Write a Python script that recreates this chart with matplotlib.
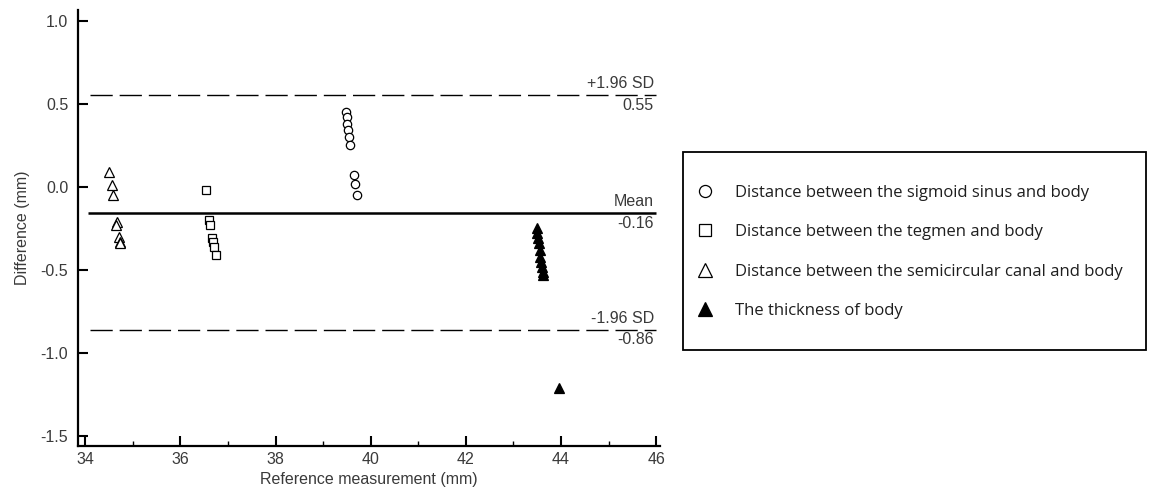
"""Bland-Altman plot: difference vs reference measurement for four distances."""

import matplotlib
matplotlib.use("Agg")
import matplotlib.pyplot as plt
from matplotlib.patches import Rectangle
from matplotlib.ticker import MultipleLocator

# --- data ---
sigmoid_x = [39.48, 39.5, 39.51, 39.53, 39.55, 39.56, 39.65, 39.67, 39.72]
sigmoid_y = [0.45, 0.42, 0.38, 0.34, 0.30, 0.25, 0.07, 0.02, -0.05]

tegmen_x = [36.54, 36.6, 36.63, 36.66, 36.68, 36.7, 36.75]
tegmen_y = [-0.02, -0.20, -0.23, -0.31, -0.33, -0.36, -0.41]

canal_x = [34.5, 34.57, 34.58, 34.66, 34.64, 34.72, 34.74, 34.73]
canal_y = [0.09, 0.01, -0.05, -0.21, -0.23, -0.30, -0.33, -0.34]

thick_x = [43.49, 43.5, 43.51, 43.53, 43.55, 43.56, 43.57, 43.6, 43.62, 43.63, 43.96]
thick_y = [-0.25, -0.28, -0.31, -0.34, -0.38, -0.42, -0.45, -0.48, -0.51, -0.53, -1.21]

series_labels = [
    "Distance between the sigmoid sinus and body",
    "Distance between the tegmen and body",
    "Distance between the semicircular canal and body",
    "The thickness of body",
]

mean_diff = -0.16
upper_loa = 0.55
lower_loa = -0.86

plt.rcParams["font.family"] = ["Liberation Sans", "DejaVu Sans"]
AXIS_FS = 11.5
TEXT_COLOR = "#3a3a3a"

fig = plt.figure(figsize=(11.51, 4.95), dpi=100)
ax = fig.add_axes([0.0678, 0.099, 0.5056, 0.881])

h1, = ax.plot(sigmoid_x, sigmoid_y, "o", ms=6, mfc="white", mec="black", mew=0.9, ls="none")
h2, = ax.plot(tegmen_x, tegmen_y, "s", ms=6, mfc="white", mec="black", mew=0.9, ls="none")
h3, = ax.plot(canal_x, canal_y, "^", ms=6.5, mfc="white", mec="black", mew=0.9, ls="none")
h4, = ax.plot(thick_x, thick_y, "^", ms=7, mfc="black", mec="black", mew=0.9, ls="none")

ax.hlines(mean_diff, 34.05, 46, colors="black", lw=1.8)
ax.hlines([upper_loa, lower_loa], 34.1, 46, colors="black", lw=1.0,
          linestyles=(0, (16, 5)))

# line annotations
lbl_kw = dict(ha="right", fontsize=AXIS_FS, color=TEXT_COLOR, textcoords="offset points")
ax.annotate("+1.96 SD", (45.95, upper_loa), xytext=(0, 3), va="bottom", **lbl_kw)
ax.annotate(f"{upper_loa:.2f}", (45.95, upper_loa), xytext=(0, -2), va="top", **lbl_kw)
ax.annotate("Mean", (45.95, mean_diff), xytext=(0, 3), va="bottom", **lbl_kw)
ax.annotate(f"{mean_diff:.2f}", (45.95, mean_diff), xytext=(0, -2), va="top", **lbl_kw)
ax.annotate("-1.96 SD", (45.95, lower_loa), xytext=(0, 3), va="bottom", **lbl_kw)
ax.annotate(f"{lower_loa:.2f}", (45.95, lower_loa), xytext=(0, -2), va="top", **lbl_kw)

ax.set_xlim(33.85, 46.08)
ax.set_ylim(-1.56, 1.065)
ax.xaxis.set_major_locator(MultipleLocator(2))
ax.xaxis.set_minor_locator(MultipleLocator(1))
ax.yaxis.set_major_locator(MultipleLocator(0.5))
ax.yaxis.set_major_formatter(plt.FormatStrFormatter("%.1f"))

for side in ("top", "right"):
    ax.spines[side].set_visible(False)
for side in ("left", "bottom"):
    ax.spines[side].set_linewidth(1.6)

ax.tick_params(which="major", direction="in", length=7, width=1.5,
               labelsize=AXIS_FS, labelcolor=TEXT_COLOR)
ax.tick_params(axis="y", which="major", pad=7)
ax.tick_params(axis="x", which="major", pad=4)
ax.tick_params(which="minor", direction="in", length=3.5, width=1.0)
ax.tick_params(axis="y", which="minor", left=False)

ax.set_xlabel("Reference measurement (mm)", fontsize=AXIS_FS, color=TEXT_COLOR, labelpad=4)
ax.set_ylabel("Difference (mm)", fontsize=AXIS_FS, color=TEXT_COLOR, labelpad=8)

# legend box on the right
box_x0, box_y0, box_x1, box_y1 = 683, 145, 1146, 343  # pixels from bottom
fig.patches.append(Rectangle((box_x0 / 1151, box_y0 / 495),
                             (box_x1 - box_x0) / 1151, (box_y1 - box_y0) / 495,
                             transform=fig.transFigure, fill=False,
                             edgecolor="black", lw=1.3))

fig.legend([h1, h2, h3, h4], series_labels, loc="upper left",
           bbox_to_anchor=(683 / 1151, 322 / 495), frameon=False,
           prop={"family": ["Open Sans", "DejaVu Sans"], "size": 12},
           markerscale=1.45, handlelength=1.2, handletextpad=1.2,
           labelspacing=1.41, borderpad=0.2, labelcolor="#1e1e1e")

fig.savefig("out.png", dpi=100)
